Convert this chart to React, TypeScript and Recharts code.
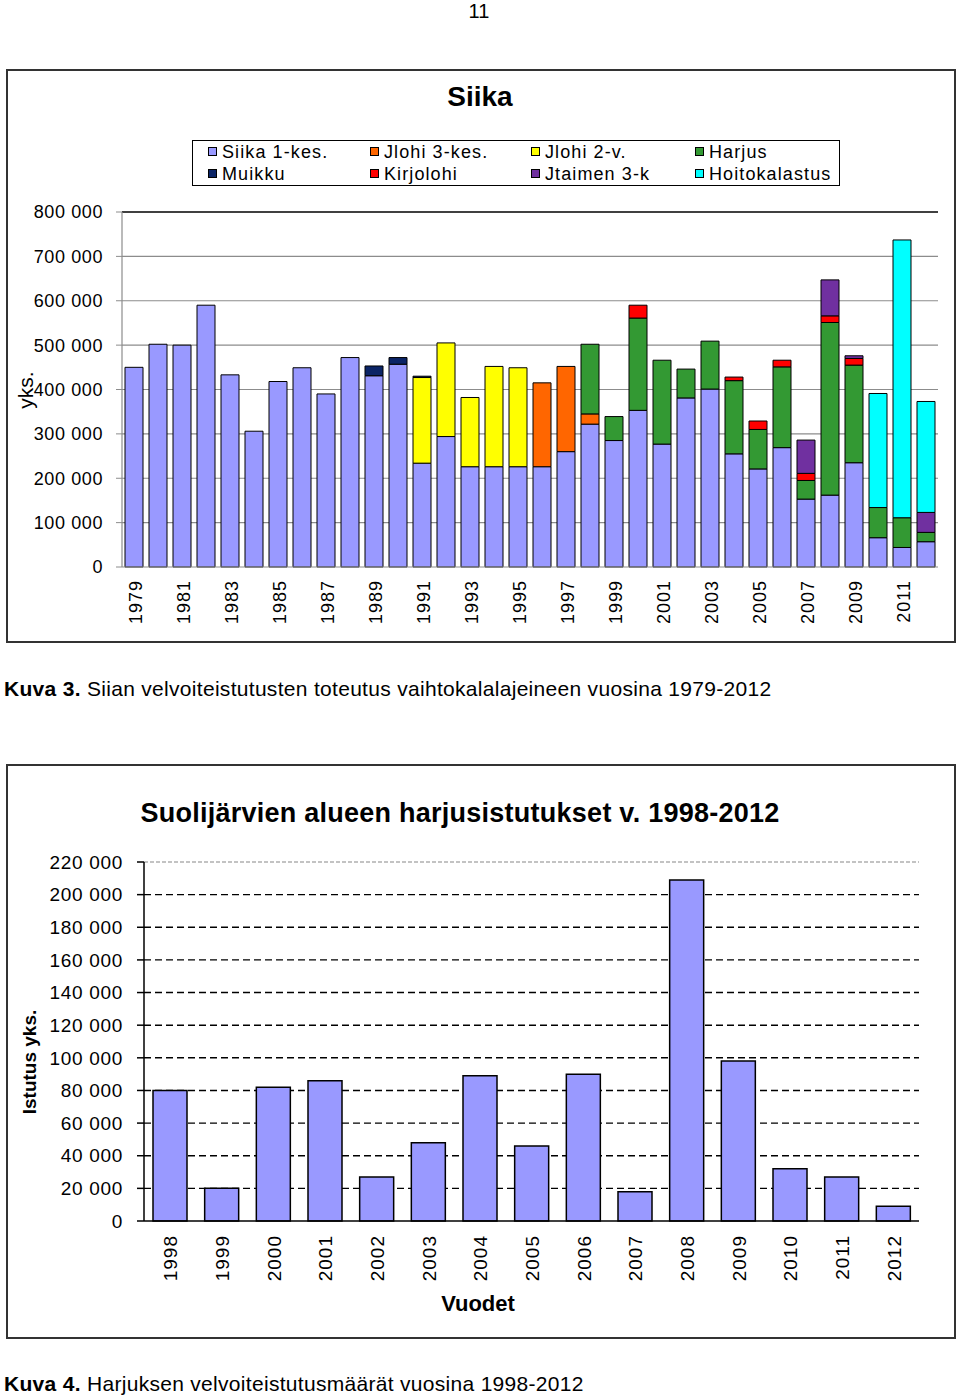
import React from 'react';
import { BarChart, Bar, XAxis, YAxis, CartesianGrid, ReferenceLine } from 'recharts';

// ---------- Chart 1: Siika ----------
const years1 = ['1979','1980','1981','1982','1983','1984','1985','1986','1987','1988','1989','1990','1991','1992','1993','1994','1995','1996','1997','1998','1999','2000','2001','2002','2003','2004','2005','2006','2007','2008','2009','2010','2011','2012'];
const siika1kes = [450000,502000,500000,590000,433000,306000,418000,449000,390000,472000,431000,457000,234000,294000,226000,226000,226000,226000,260000,322000,285000,353000,277000,381000,401000,255000,221000,269000,153000,162000,235000,66000,44000,57000];
const jlohi3kes = [0,0,0,0,0,0,0,0,0,0,0,0,0,0,0,0,0,189000,192000,23000,0,0,0,0,0,0,0,0,0,0,0,0,0,0];
const jlohi2v = [0,0,0,0,0,0,0,0,0,0,0,0,193000,211000,156000,226000,223000,0,0,0,0,0,0,0,0,0,0,0,0,0,0,0,0,0];
const harjus = [0,0,0,0,0,0,0,0,0,0,0,0,0,0,0,0,0,0,0,157000,54000,208000,189000,65000,108000,165000,89000,182000,42000,389000,220000,68000,67000,21000];
const muikku = [0,0,0,0,0,0,0,0,0,0,22000,15000,3000,0,0,0,0,0,0,0,0,0,0,0,0,0,0,0,0,0,0,0,0,0];
const kirjolohi = [0,0,0,0,0,0,0,0,0,0,0,0,0,0,0,0,0,0,0,0,0,29000,0,0,0,8000,19000,15000,16000,15000,15000,0,0,0];
const jtaimen3k = [0,0,0,0,0,0,0,0,0,0,0,0,0,0,0,0,0,0,0,0,0,0,0,0,0,0,0,0,75000,81000,6000,0,0,45000];
const hoitokalastus = [0,0,0,0,0,0,0,0,0,0,0,0,0,0,0,0,0,0,0,0,0,0,0,0,0,0,0,0,0,0,0,257000,626000,250000];
const yTicks1 = [0,100000,200000,300000,400000,500000,600000,700000,800000];

const seriesKeys = ['siika','jlohi3','jlohi2','harjus','muikku','kirjolohi','jtaimen','hoito'];
const seriesNames = ['Siika 1-kes.','Jlohi 3-kes.','Jlohi 2-v.','Harjus','Muikku','Kirjolohi','Jtaimen 3-k','Hoitokalastus'];
const seriesColors = ['#9999FF','#FF6600','#FFFF00','#339933','#0B2466','#FF0000','#7030A0','#00FFFF'];
const seriesValues = [siika1kes, jlohi3kes, jlohi2v, harjus, muikku, kirjolohi, jtaimen3k, hoitokalastus];

const data1 = years1.map((y, i) => {
  const row: Record<string, any> = { year: y };
  seriesKeys.forEach((k, s) => { row[k] = seriesValues[s][i]; });
  return row;
});

// ---------- Chart 2: Harjus ----------
const years2 = ['1998','1999','2000','2001','2002','2003','2004','2005','2006','2007','2008','2009','2010','2011','2012'];
const harjusSuoli = [80000,20000,82000,86000,27000,48000,89000,46000,90000,18000,209000,98000,32000,27000,9000];
const yTicks2 = [0,20000,40000,60000,80000,100000,120000,140000,160000,180000,200000,220000];
const gridTicks2 = [20000,40000,60000,80000,100000,120000,140000,160000,180000,200000];
const boundaryTicks2 = years2.map((_, i) => i).concat([years2.length]);

const data2 = years2.map((y, i) => ({ year: y, harjus: harjusSuoli[i] }));

const FONT = '"Liberation Sans", Arial, Helvetica, sans-serif';
const fmt = (v: number) => String(v).replace(/\B(?=(\d{3})+(?!\d))/g, ' ');

const YearTick = (props: any) => {
  const { x, y, payload, fs, dx } = props;
  return (
    <g transform={`translate(${x + (dx || 0)},${y})`}>
      <text transform="rotate(-90)" textAnchor="end" dominantBaseline="central"
        fontSize={fs || 18} fontFamily={FONT} fill="#000" letterSpacing={1}>
        {payload.value}
      </text>
    </g>
  );
};

const abs = (s: React.CSSProperties): React.CSSProperties => ({ position: 'absolute', ...s });

export default function App() {
  const legendCols = [208, 370, 531, 695];
  const legendRows = [152, 174];
  return (
    <div style={{ position: 'absolute', left: 0, top: 0, width: 960, height: 1400, background: '#fff', fontFamily: FONT, color: '#000' }}>
      {/* page number */}
      <div style={abs({ left: 0, top: 0, width: 958, textAlign: 'center', fontSize: 20, lineHeight: '22px' })}>11</div>

      {/* ===== Chart 1 ===== */}
      <div style={abs({ left: 6, top: 69, width: 950, height: 574, border: '2px solid #333', boxSizing: 'border-box' })} />
      <div style={abs({ left: 0, top: 0 })}>
        <BarChart width={960} height={650} data={data1} barSize={18}
          margin={{ top: 212, right: 22, bottom: 13, left: 22 }}>
          <CartesianGrid horizontal vertical={false} stroke="#8c8c8c" strokeWidth={1.2}
            horizontalValues={[100000,200000,300000,400000,500000,600000,700000]} />
          <XAxis dataKey="year" interval={1} height={70} tickSize={0} tickMargin={13}
            axisLine={{ stroke: '#8c8c8c', strokeWidth: 1.2 }} tickLine={false}
            tick={<YearTick fs={18} dx={2} />} />
          <YAxis width={100} domain={[0, 800000]} ticks={yTicks1} tickFormatter={fmt}
            tickSize={6} tickMargin={13} interval={0}
            axisLine={{ stroke: '#8c8c8c', strokeWidth: 1.2 }} tickLine={{ stroke: '#8c8c8c' }}
            tick={{ fontSize: 18, fill: '#000', fontFamily: FONT, letterSpacing: 0.6 }} />
          <YAxis yAxisId="right" orientation="right" width={0} domain={[0, 800000]} allowDataOverflow
            tick={false} tickLine={false} axisLine={{ stroke: '#000', strokeWidth: 1.5 }} />
          <ReferenceLine y={800000} stroke="#000" strokeWidth={1.5} />
          {seriesKeys.map((k, s) => (
            <Bar key={k} dataKey={k} name={seriesNames[s]} stackId="a" fill={seriesColors[s]}
              stroke="#000" strokeWidth={1} isAnimationActive={false} />
          ))}
        </BarChart>
      </div>

      {/* title */}
      <div style={abs({ left: 0, top: 81, width: 960, textAlign: 'center', fontSize: 28, fontWeight: 'bold', lineHeight: '32px' })}>Siika</div>

      {/* legend */}
      <div style={abs({ left: 192, top: 140, width: 648, height: 46, border: '1.5px solid #000', boxSizing: 'border-box', background: '#fff' })} />
      {seriesNames.map((n, s) => {
        const col = legendCols[s % 4];
        const row = legendRows[Math.floor(s / 4)];
        return (
          <React.Fragment key={n}>
            <div style={abs({ left: col, top: row - 5, width: 9, height: 9, background: seriesColors[s], border: '1px solid #000', boxSizing: 'border-box' })} />
            <div style={abs({ left: col + 14, top: row - 11, fontSize: 18, lineHeight: '22px', letterSpacing: 1.1, whiteSpace: 'nowrap' })}>{n}</div>
          </React.Fragment>
        );
      })}

      {/* y label */}
      <div style={abs({ left: 26 - 50, top: 390 - 12, width: 100, height: 24, lineHeight: '24px', textAlign: 'center', fontSize: 21, transform: 'rotate(-90deg)' })}>yks.</div>

      {/* caption 3 */}
      <div style={abs({ left: 4, top: 678, fontSize: 21, lineHeight: '22px', letterSpacing: 0.3, whiteSpace: 'nowrap' })}>
        <b>Kuva 3.</b> Siian velvoiteistutusten toteutus vaihtokalalajeineen vuosina 1979-2012
      </div>

      {/* ===== Chart 2 ===== */}
      <div style={abs({ left: 6, top: 764, width: 950, height: 575, border: '2px solid #333', boxSizing: 'border-box' })} />
      <div style={abs({ left: 0, top: 760 })}>
        <BarChart width={960} height={580} data={data2} barSize={34}
          margin={{ top: 102, right: 41, bottom: 49, left: 24 }}>
          <CartesianGrid horizontal vertical={false} stroke="#000" strokeWidth={1.4} strokeDasharray="7 4"
            horizontalValues={gridTicks2} />
          <XAxis dataKey="year" interval={0} height={70} tickSize={0} tickMargin={14}
            axisLine={{ stroke: '#000', strokeWidth: 1.5 }} tickLine={false}
            tick={<YearTick fs={19} dx={1} />} />
          <XAxis xAxisId="bounds" type="number" domain={[0, years2.length]} allowDataOverflow
            ticks={boundaryTicks2} interval={0} height={0} axisLine={false} tick={false}
            tickSize={7} tickLine={{ stroke: '#000', strokeWidth: 1.5 }} />
          <YAxis width={120} domain={[0, 220000]} ticks={yTicks2} tickFormatter={fmt} interval={0}
            tickSize={7} tickMargin={14}
            axisLine={{ stroke: '#000', strokeWidth: 1.5 }} tickLine={{ stroke: '#000', strokeWidth: 1.5 }}
            tick={{ fontSize: 19, fill: '#000', fontFamily: FONT, letterSpacing: 0.7 }} />
          <YAxis yAxisId="right" orientation="right" width={0} domain={[0, 220000]} allowDataOverflow
            tick={false} tickLine={false} axisLine={{ stroke: '#999', strokeWidth: 1.2 }} />
          <ReferenceLine y={220000} stroke="#888" strokeWidth={1.2} strokeDasharray="4 2" />
          <Bar dataKey="harjus" name="Harjus" fill="#9999FF" stroke="#000" strokeWidth={1.5} isAnimationActive={false} />
        </BarChart>
      </div>

      {/* title 2 */}
      <div style={abs({ left: 0, top: 797, width: 920, textAlign: 'center', fontSize: 27, fontWeight: 'bold', lineHeight: '32px', letterSpacing: 0.25, whiteSpace: 'nowrap' })}>
        Suolijärvien alueen harjusistutukset v. 1998-2012
      </div>

      {/* y label 2 */}
      <div style={abs({ left: 30 - 80, top: 1062 - 12, width: 160, height: 24, lineHeight: '24px', textAlign: 'center', fontSize: 19, fontWeight: 'bold', transform: 'rotate(-90deg)', whiteSpace: 'nowrap' })}>Istutus yks.</div>

      {/* x label 2 */}
      <div style={abs({ left: 478 - 100, top: 1290, width: 200, textAlign: 'center', fontSize: 22, fontWeight: 'bold', lineHeight: '28px' })}>Vuodet</div>

      {/* caption 4 */}
      <div style={abs({ left: 4, top: 1373, fontSize: 21, lineHeight: '22px', letterSpacing: 0.3, whiteSpace: 'nowrap' })}>
        <b>Kuva 4.</b> Harjuksen velvoiteistutusmäärät vuosina 1998-2012
      </div>
    </div>
  );
}
